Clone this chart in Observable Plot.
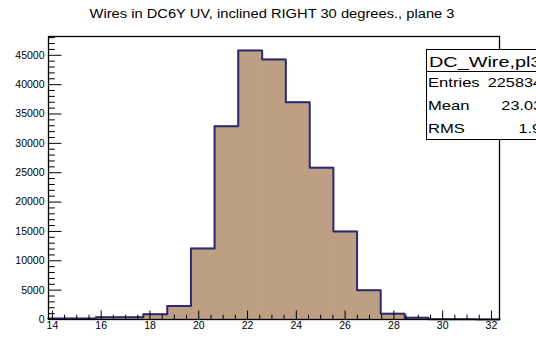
<!DOCTYPE html>
<html><head><meta charset="utf-8">
<script src="https://cdn.jsdelivr.net/npm/d3@7"></script>
<script src="https://cdn.jsdelivr.net/npm/@observablehq/plot@0.6"></script>
<style>html,body{margin:0;padding:0;background:#fff;overflow:hidden} svg{display:block}</style>
</head><body><div id="chart"></div>
<script>
// ---- data ----
const binEdges = [13.84,14.81,15.79,16.76,17.73,18.71,19.68,20.65,21.62,22.60,23.57,24.55,25.52,26.49,27.46,28.44,29.41,30.38,31.36,32.33];
const counts   = [150,150,400,400,900,2300,12100,32900,45800,44300,37000,25850,15000,4980,990,300,60,30,10];
const xTickValues = [14,16,18,20,22,24,26,28,30,32];
const xTickLabels = ["14","16","18","20","22","24","26","28","30","32"];
const yTickValues = [0,5000,10000,15000,20000,25000,30000,35000,40000,45000];
const yTickLabels = ["0","5000","10000","15000","20000","25000","30000","35000","40000","45000"];
const titleText = "Wires in DC6Y UV, inclined RIGHT 30 degrees., plane 3";
const statsName = "DC_Wire,pl3";
const statsLabels = ["Entries","Mean","RMS"];
const statsValues = ["225834","23.03","1.96"];

// ---- layout ----
const W = 536, H = 338;
const mL = 48, mR = 37, mT = 36, mB = 19;
const frameW = W - mL - mR, frameH = H - mT - mB;
const xDomain = [binEdges[0], binEdges[binEdges.length - 1]];
const yDomain = [0, 48200];

const bins = counts.map((c, i) => ({x1: binEdges[i], x2: binEdges[i + 1], y: c}));
const steps = counts.map((c, i) => ({x: binEdges[i], y: c}));
steps.push({x: binEdges[binEdges.length - 1], y: counts[counts.length - 1]});

const xMinor = d3.range(14, 32.01, 0.5).filter(v => !xTickValues.includes(v));
const yMinor = d3.range(0, 48001, 1000).filter(v => !yTickValues.includes(v));

const fillCol = "#bd9f83", lineCol = "#2e2a72";

const chart = Plot.plot({
  width: W, height: H,
  marginLeft: mL, marginRight: mR, marginTop: mT, marginBottom: mB,
  style: {fontFamily: "Liberation Sans, Arial, sans-serif", fontSize: "10.5px", background: "#fff", color: "#000"},
  x: {domain: xDomain, axis: null},
  y: {domain: yDomain, axis: null},
  marks: [
    Plot.rectY(bins, {x1: "x1", x2: "x2", y: "y", fill: fillCol, stroke: fillCol, strokeWidth: 0.8, inset: 0}),
    Plot.line(steps, {x: "x", y: "y", curve: "step-after", stroke: lineCol, strokeWidth: 2}),
    // y ticks (inward)
    Plot.tickY(yTickValues, {y: d => d, insetRight: frameW - 13.5, stroke: "#000", strokeWidth: 1}),
    Plot.tickY(yMinor, {y: d => d, insetRight: frameW - 6.8, stroke: "#000", strokeWidth: 1}),
    // x ticks (inward)
    Plot.tickX(xTickValues, {x: d => d, insetTop: frameH - 8.5, stroke: "#000", strokeWidth: 1}),
    Plot.tickX(xMinor, {x: d => d, insetTop: frameH - 4.3, stroke: "#000", strokeWidth: 1}),
    Plot.axisY(yTickValues, {anchor: "left", tickSize: 0, tickPadding: 4, tickFormat: (d, i) => yTickLabels[i], label: null, fill: "#000"}),
    Plot.axisX(xTickValues, {anchor: "bottom", tickSize: 0, tickPadding: 2, tickFormat: (d, i) => xTickLabels[i], label: null, fill: "#000"}),
    Plot.frame({stroke: "#000", strokeWidth: 1.3})
  ]
});
document.getElementById("chart").appendChild(chart);

// ---- title and statistics box ----
const svg = d3.select(chart);
svg.append("text")
  .attr("x", 272).attr("y", 18)
  .attr("text-anchor", "middle")
  .attr("font-family", "Liberation Sans, Arial, sans-serif")
  .attr("font-size", 12.5)
  .attr("textLength", 365).attr("lengthAdjust", "spacingAndGlyphs")
  .attr("fill", "#000")
  .text(titleText);

const box = svg.append("g").attr("text-anchor", "start");
box.append("rect").attr("x", 426.5).attr("y", 49.5).attr("width", 140).attr("height", 90)
  .attr("fill", "#fff").attr("stroke", "#000").attr("stroke-width", 1);
box.append("line").attr("x1", 426.5).attr("x2", 566).attr("y1", 71.5).attr("y2", 71.5)
  .attr("stroke", "#000").attr("stroke-width", 1);
box.append("text")
  .attr("transform", "translate(429,67) scale(1.37,1)")
  .attr("text-anchor", "start")
  .attr("font-family", "Liberation Sans, Arial, sans-serif")
  .attr("font-size", 14.5).attr("fill", "#000")
  .text(statsName);
const rowY = [87, 110, 133];
const valRight = [542, 542, 550];
statsLabels.forEach((lab, i) => {
  box.append("text")
    .attr("transform", `translate(428,${rowY[i]}) scale(1.33,1)`)
    .attr("text-anchor", "start")
    .attr("font-family", "Liberation Sans, Arial, sans-serif")
    .attr("font-size", 12.5).attr("fill", "#000")
    .text(lab);
  box.append("text")
    .attr("transform", `translate(${valRight[i]},${rowY[i]}) scale(1.3,1)`)
    .attr("text-anchor", "end")
    .attr("font-family", "Liberation Sans, Arial, sans-serif")
    .attr("font-size", 12.5).attr("fill", "#000")
    .text(statsValues[i]);
});
</script>
</body></html>
